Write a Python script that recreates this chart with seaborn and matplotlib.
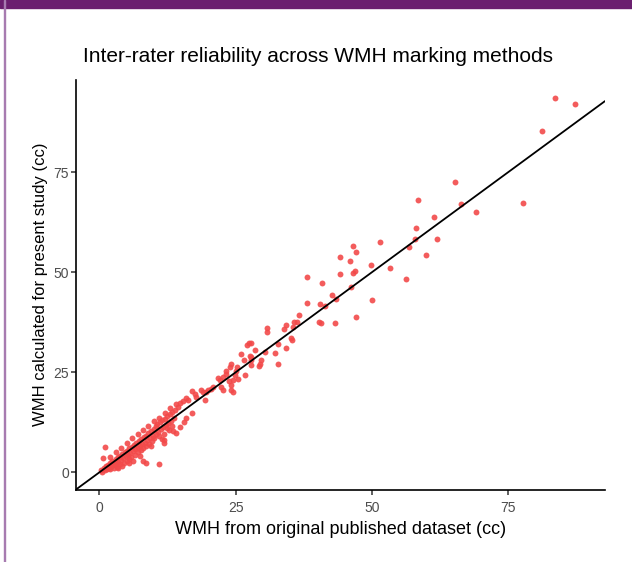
import pandas as pd
import matplotlib.pyplot as plt
import matplotlib.patches as mpatches
import seaborn as sns

# --- Data (original vs. present study, cc) ---
wmh_original = [
    # dense band near the origin
    0.3, 0.5, 0.8, 1.0, 1.2, 1.4, 1.5, 1.7, 1.9, 2.0, 2.2, 2.3, 2.5, 2.6, 2.8,
    3.0, 3.1, 3.3, 3.4, 3.5, 3.7, 3.8, 4.0, 4.1, 4.2, 4.4, 4.5, 4.7, 4.8, 5.0,
    5.1, 5.2, 5.4, 5.5, 5.7, 5.8, 6.0, 6.1, 6.2, 6.4, 6.5, 6.6, 6.8, 7.0, 7.1,
    7.3, 7.4, 7.6, 7.7, 7.9, 8.0, 8.2, 8.3, 8.5, 8.6, 8.8, 9.0, 9.1, 9.3, 9.5,
    9.6, 9.8, 10.0, 10.1, 10.3, 10.4, 10.6, 10.8, 11.0, 11.1, 11.3, 11.5, 11.6,
    11.8, 12.0, 12.2, 12.4, 12.5, 12.7, 12.9, 13.1, 13.3, 13.4, 13.6, 13.8,
    2.0, 3.0, 4.0, 5.0, 6.0, 7.0, 8.0, 9.0, 10.0, 11.0, 12.0, 13.0, 14.0,
    3.5, 5.5, 7.5, 9.5, 11.5, 13.5, 15.5,
    # outliers near the origin
    1.0, 0.7, 8.0, 8.5, 10.9, 11.8, 11.9, 12.4, 14.1, 14.7, 15.9, 17.0,
    # 14 - 30
    14.4, 14.7, 15.3, 15.8, 16.2, 17.0, 17.5, 17.8, 18.7, 19.0, 19.3, 19.6,
    19.9, 20.5, 20.8, 21.7, 22.1, 22.4, 22.7, 22.7, 23.2, 23.3, 23.7, 23.9,
    24.1, 24.1, 24.2, 24.5, 24.5, 24.8, 25.1, 25.3, 25.4, 25.9, 26.5, 26.8,
    27.1, 27.4, 27.6, 27.8, 27.8, 27.9, 27.9, 28.6, 29.2, 29.4, 29.7, 30.3,
    # 30 - 50
    30.8, 30.8, 32.2, 32.8, 32.8, 33.9, 34.2, 34.2, 35.1, 35.4, 35.5, 35.7,
    36.3, 36.6, 38.1, 38.1, 40.3, 40.4, 40.6, 40.8, 41.4, 42.6, 43.2, 43.5,
    44.2, 44.2, 46.0, 46.1, 46.5, 46.6, 46.9, 47.1, 47.1, 49.9, 50.1,
    # 50 and up
    51.5, 53.4, 56.2, 56.9, 58.0, 58.2, 58.4, 59.9, 61.4, 61.9, 65.3, 66.3,
    69.1, 77.7, 81.2, 83.6, 87.3,
]
wmh_present = [
    0.5, 0.2, 1.0, 0.6, 1.5, 0.9, 1.8, 1.2, 0.8, 2.3, 1.6, 2.8, 1.9, 1.1, 2.6,
    3.3, 2.0, 1.4, 3.8, 2.7, 2.2, 4.1, 3.1, 1.7, 4.6, 3.6, 2.4, 5.0, 4.0, 2.9,
    5.4, 4.4, 3.4, 6.0, 4.9, 3.8, 6.4, 5.3, 2.8, 6.9, 5.8, 4.4, 7.3, 6.1, 5.0,
    7.8, 6.6, 5.5, 8.3, 7.1, 6.0, 8.8, 7.4, 9.2, 6.5, 8.0, 9.8, 7.2, 8.6, 10.3,
    7.8, 9.1, 10.8, 8.5, 11.5, 9.6, 12.0, 10.2, 9.0, 12.5, 10.8, 13.0, 11.4,
    9.6, 13.4, 11.9, 14.0, 12.4, 10.5, 14.5, 12.8, 15.0, 11.6, 13.5, 15.6,
    3.9, 5.0, 6.2, 7.3, 8.5, 9.6, 10.5, 11.7, 12.8, 13.6, 14.9, 16.0, 17.0,
    1.0, 2.4, 4.1, 6.6, 8.3, 10.4, 12.6,
    6.3, 3.6, 2.8, 2.3, 2.0, 7.4, 8.1, 11.0, 9.8, 11.4, 13.5, 14.8,
    16.4, 17.4, 17.8, 18.5, 18.1, 20.4, 19.6, 18.9, 20.6, 20.2, 18.1, 20.2,
    20.6, 20.8, 21.4, 23.7, 23.1, 21.3, 23.8, 20.6, 24.6, 25.4, 22.8, 26.4,
    27.1, 20.6, 21.8, 23.1, 20.2, 24.3, 25.4, 26.4, 23.4, 29.6, 28.2, 24.3,
    31.8, 32.3, 29.2, 28.2, 32.3, 28.9, 26.8, 30.6, 26.7, 27.1, 28.1, 30.0,
    36.0, 35.0, 29.8, 27.0, 32.0, 35.8, 36.8, 31.1, 33.7, 33.1, 36.4, 37.7,
    37.7, 39.3, 48.8, 42.4, 37.7, 42.1, 37.4, 47.3, 41.6, 44.4, 37.3, 43.4,
    53.8, 49.5, 52.8, 46.3, 49.8, 56.7, 50.4, 55.0, 38.9, 51.8, 43.1,
    57.7, 51.1, 48.3, 56.3, 58.4, 61.1, 68.0, 54.3, 63.9, 58.4, 72.5, 67.1,
    65.1, 67.4, 85.4, 93.5, 92.1,
]

df = pd.DataFrame({"original": wmh_original, "present": wmh_present})

# --- Style setup ---
sns.set_theme(style="ticks")
plt.rcParams["font.family"] = ["Liberation Sans", "DejaVu Sans"]

fig = plt.figure(figsize=(6.32, 5.62), dpi=100)
ax = fig.add_axes([76 / 632, 1 - 489.5 / 562, 529 / 632, 410 / 562])

sns.scatterplot(data=df, x="original", y="present", ax=ax,
                color="#F24A4A", s=18, linewidth=0, alpha=0.9, zorder=2)
ax.axline((0, 0), slope=1, color="black", lw=1.3, zorder=3)

ax.set_xlim(-4.3, 92.8)
ax.set_ylim(-4.3, 98.2)
ax.set_xticks([0, 25, 50, 75])
ax.set_yticks([0, 25, 50, 75])
sns.despine(ax=ax)
for side in ["left", "bottom"]:
    ax.spines[side].set_color("black")
    ax.spines[side].set_linewidth(1.2)
ax.tick_params(axis="both", length=3.5, width=1.1, color="#333333",
               labelsize=10, labelcolor="#4D4D4D")
ax.tick_params(axis="x", pad=5)
ax.tick_params(axis="y", pad=1.5)

ax.set_xlabel("WMH from original published dataset (cc)", fontsize=13,
              color="black", labelpad=4)
ax.set_ylabel("WMH calculated for present study (cc)", fontsize=12,
              color="black", labelpad=4)
fig.text(318 / 632, 1 - 56 / 562, "Inter-rater reliability across WMH marking methods",
         ha="center", va="center", fontsize=15, color="black")

# page frame: purple band on top, thin line on the left
fig.patches.append(mpatches.Rectangle((0, 1 - 8 / 562), 1, 8 / 562,
                                      transform=fig.transFigure,
                                      color="#6B1F6F", zorder=0))
fig.patches.append(mpatches.Rectangle((3.5 / 632, 0), 1.5 / 632, 1,
                                      transform=fig.transFigure,
                                      color="#A77BB0", zorder=0))

fig.savefig("out.png", dpi=100)
